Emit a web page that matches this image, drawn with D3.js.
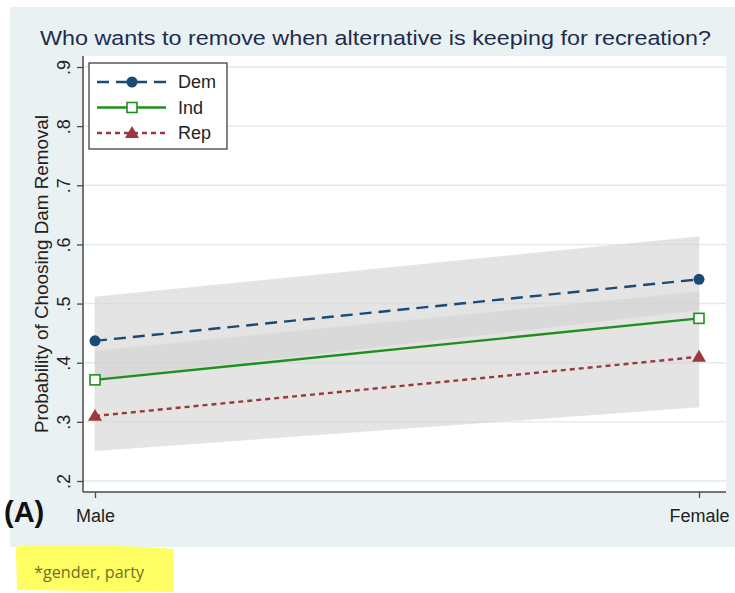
<!DOCTYPE html>
<html>
<head>
<meta charset="utf-8">
<script src="https://cdn.jsdelivr.net/npm/d3@7/dist/d3.min.js"></script>
<style>
  html, body { margin: 0; padding: 0; background: #ffffff; }
  svg { display: block; }
</style>
</head>
<body>
<svg id="chart" width="735" height="593"></svg>
<script>
// ---- data ----
const genders = ["Male", "Female"];
const dem = [0.437, 0.541];
const ind = [0.371, 0.475];
const rep = [0.310, 0.410];
// confidence bands (low / high) per gender
const demLow  = [0.372, 0.489];
const demHigh = [0.511, 0.613];
const repLow  = [0.251, 0.325];
const repHigh = [0.420, 0.520];
const yTicks = [0.2, 0.3, 0.4, 0.5, 0.6, 0.7, 0.8, 0.9];
const yTickLabels = [".2", ".3", ".4", ".5", ".6", ".7", ".8", ".9"];
const seriesNames = ["Dem", "Ind", "Rep"];

const title = "Who wants to remove when alternative is keeping for recreation?";
const yTitle = "Probability of Choosing Dam Removal";

// ---- layout ----
const W = 735, H = 593;
const plot = { left: 83, right: 726, top: 56, bottom: 492 };
const font = "'Liberation Sans', Arial, Helvetica, sans-serif";

const svg = d3.select("#chart");

// outer graph region
svg.append("rect").attr("x", 10).attr("y", 7).attr("width", W - 10).attr("height", 540)
  .attr("fill", "#eaf1f3");

// plot region
svg.append("rect").attr("x", plot.left).attr("y", plot.top)
  .attr("width", plot.right - plot.left).attr("height", plot.bottom - plot.top)
  .attr("fill", "#ffffff");

const y = d3.scaleLinear().domain([0.1814, 0.9186]).range([plot.bottom, plot.top]);
const x = d3.scalePoint().domain(genders).range([95, 699]);

// grid lines
svg.append("g").selectAll("line").data(yTicks).join("line")
  .attr("x1", plot.left).attr("x2", plot.right)
  .attr("y1", d => y(d)).attr("y2", d => y(d))
  .attr("stroke", "#e1eaee").attr("stroke-width", 1.4);

// confidence bands
const bandArea = (lo, hi) => d3.area()
  .x((d, i) => x(genders[i]))
  .y0((d, i) => y(lo[i]))
  .y1((d, i) => y(hi[i]))(genders);

[[demLow, demHigh], [repLow, repHigh]].forEach(([lo, hi]) => {
  svg.append("path").attr("d", bandArea(lo, hi))
    .attr("fill", "rgb(208,208,208)").attr("fill-opacity", 0.58)
    .attr("stroke", "rgb(220,220,220)").attr("stroke-opacity", 0.5).attr("stroke-width", 0.8);
});

// axes
const yAxis = d3.axisLeft(y).tickValues(yTicks)
  .tickFormat((d, i) => yTickLabels[i]).tickSize(6).tickPadding(4);
const gy = svg.append("g").attr("transform", `translate(${plot.left},0)`).call(yAxis);
gy.select(".domain").attr("d", `M0,${plot.top}V${plot.bottom}`).attr("stroke", "#4a4a4a").attr("stroke-width", 1.5);
gy.selectAll(".tick line").attr("stroke", "#4a4a4a").attr("stroke-width", 1.3);
gy.selectAll(".tick text")
  .attr("transform", "rotate(-90)")
  .attr("x", 0).attr("y", -13).attr("dy", 0)
  .attr("text-anchor", "middle")
  .attr("font-family", font).attr("font-size", 18).attr("fill", "#222");

const xAxis = d3.axisBottom(x).tickSize(6).tickPadding(7);
const gx = svg.append("g").attr("transform", `translate(0,${plot.bottom})`).call(xAxis);
gx.select(".domain").attr("d", `M${plot.left},0H${plot.right}`).attr("stroke", "#4a4a4a").attr("stroke-width", 1.5);
gx.selectAll(".tick line").attr("stroke", "#4a4a4a").attr("stroke-width", 1.3);
gx.selectAll(".tick text").attr("y", 30).attr("dy", 0)
  .attr("font-family", font).attr("font-size", 18).attr("fill", "#222");

// series
const series = [
  { name: seriesNames[0], values: dem, color: "#1b4a75", dash: "12,7", marker: "circle" },
  { name: seriesNames[1], values: ind, color: "#1f8f1f", dash: null, marker: "square" },
  { name: seriesNames[2], values: rep, color: "#9a3a3e", dash: "5,4", marker: "triangle" }
];

const line = d3.line().x((d, i) => x(genders[i])).y(d => y(d));

function drawMarker(g, type, cx, cy, color) {
  if (type === "circle") {
    g.append("circle").attr("cx", cx).attr("cy", cy).attr("r", 5.5).attr("fill", color);
  } else if (type === "square") {
    g.append("rect").attr("x", cx - 5).attr("y", cy - 5).attr("width", 10).attr("height", 10)
      .attr("fill", "#ffffff").attr("stroke", color).attr("stroke-width", 1.6);
  } else {
    const s = 7;
    g.append("path")
      .attr("d", `M${cx},${cy - s}L${cx + s},${cy + s * 0.7}L${cx - s},${cy + s * 0.7}Z`)
      .attr("fill", color);
  }
}

series.forEach(s => {
  const g = svg.append("g");
  g.append("path").attr("d", line(s.values)).attr("fill", "none")
    .attr("stroke", s.color).attr("stroke-width", 2.4)
    .attr("stroke-dasharray", s.dash);
  s.values.forEach((v, i) => drawMarker(g, s.marker, x(genders[i]), y(v), s.color));
});

// legend
const lg = svg.append("g");
lg.append("rect").attr("x", 89).attr("y", 63).attr("width", 138).attr("height", 86)
  .attr("fill", "#ffffff").attr("stroke", "#333").attr("stroke-width", 1.2);
series.forEach((s, i) => {
  const ly = 82 + i * 25.5;
  lg.append("line").attr("x1", 97).attr("x2", 166).attr("y1", ly).attr("y2", ly)
    .attr("stroke", s.color).attr("stroke-width", 2.4).attr("stroke-dasharray", s.dash);
  drawMarker(lg, s.marker, 132, ly, s.color);
  lg.append("text").attr("x", 178).attr("y", ly + 6).text(s.name)
    .attr("font-family", font).attr("font-size", 18).attr("fill", "#222");
});

// title
svg.append("text").attr("x", 40).attr("y", 45)
  .attr("font-family", font).attr("font-size", 20.5).attr("fill", "#1e2c4c")
  .attr("textLength", 671).attr("lengthAdjust", "spacingAndGlyphs")
  .text(title);

// y axis title
svg.append("text")
  .attr("transform", `translate(48,433) rotate(-90)`)
  .attr("font-family", font).attr("font-size", 18).attr("fill", "#222")
  .attr("textLength", 318).attr("lengthAdjust", "spacingAndGlyphs")
  .text(yTitle);

// panel tag
svg.append("text").attr("x", 4).attr("y", 522)
  .attr("font-family", font).attr("font-size", 29).attr("font-weight", "bold").attr("fill", "#111")
  .text("(A)");

// footnote with highlight
svg.append("path")
  .attr("d", "M20,546 Q15,546 16,552 L17,590 L174,592 L174,549 Q120,545 80,546 Z")
  .attr("fill", "#ffff63");
svg.append("text").attr("x", 34).attr("y", 578)
  .attr("font-family", "'Open Sans', 'Liberation Sans', sans-serif").attr("font-size", 16.2)
  .attr("fill", "#6f7020")
  .text("*gender, party");
</script>
</body>
</html>
